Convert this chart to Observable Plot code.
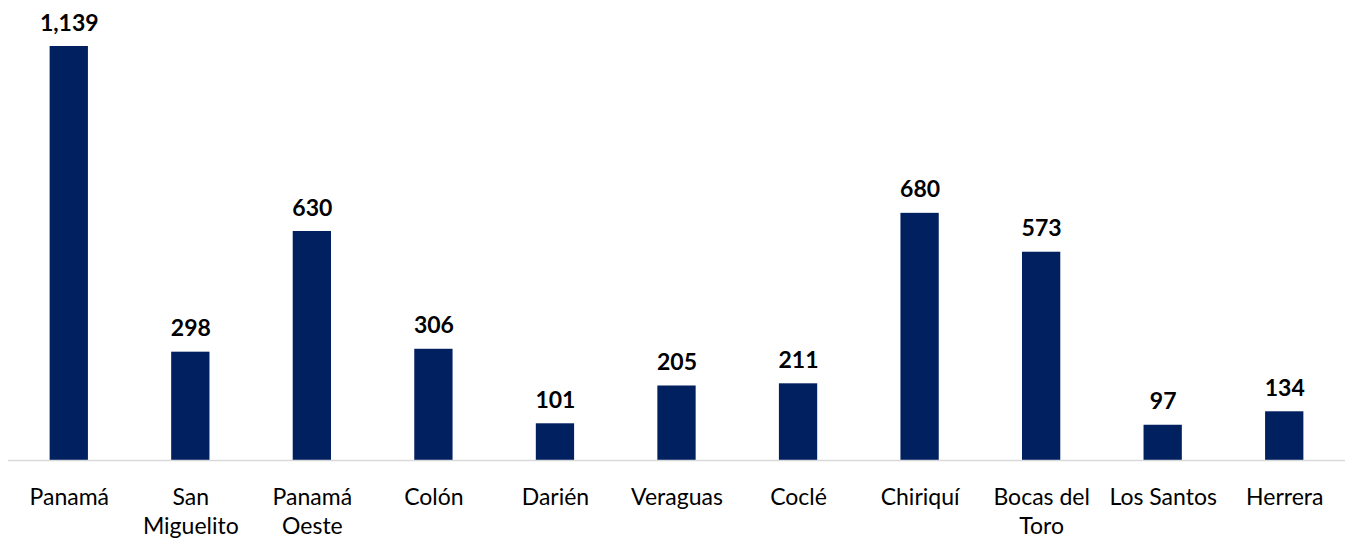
<!DOCTYPE html>
<html>
<head>
<meta charset="utf-8">
<script src="https://cdn.jsdelivr.net/npm/d3@7"></script>
<script src="https://cdn.jsdelivr.net/npm/@observablehq/plot@0.6"></script>
<style>
  html, body { margin: 0; padding: 0; background: #ffffff; }
  #chart { width: 1346px; height: 541px; }
</style>
</head>
<body>
<div id="chart"></div>
<script>
const categories = ["Panamá", "San Miguelito", "Panamá Oeste", "Colón", "Darién", "Veraguas", "Coclé", "Chiriquí", "Bocas del Toro", "Los Santos", "Herrera"];
const tickLabels = ["Panamá", "San\nMiguelito", "Panamá\nOeste", "Colón", "Darién", "Veraguas", "Coclé", "Chiriquí", "Bocas del\nToro", "Los Santos", "Herrera"];
const values = [1139, 298, 630, 306, 101, 205, 211, 680, 573, 97, 134];

const data = categories.map((c, i) => ({category: c, value: values[i]}));
const labelOf = new Map(categories.map((c, i) => [c, tickLabels[i]]));

const chart = Plot.plot({
  width: 1346,
  height: 541,
  marginTop: 46,
  marginBottom: 81,
  marginLeft: 8,
  marginRight: 1,
  style: {fontFamily: "Lato, 'Open Sans', sans-serif", background: "#ffffff"},
  x: {domain: categories, paddingInner: 0.685, paddingOuter: 0.3425, round: false, label: null},
  y: {domain: [0, 1139], axis: null},
  marks: [
    Plot.barY(data, {x: "category", y: "value", fill: "#002060"}),
    Plot.ruleY([0], {stroke: "#d9d9d9", strokeWidth: 1.5}),
    Plot.text(data, {
      x: "category", y: "value",
      text: d => d3.format(",")(d.value),
      lineAnchor: "bottom", dy: -16,
      fontSize: 23, fontWeight: "bold", fill: "#000000"
    }),
    Plot.axisX({
      tickSize: 0, tickPadding: 24,
      tickFormat: d => labelOf.get(d),
      fontSize: 23, lineHeight: 1.25,
      color: "#000000", label: null
    })
  ]
});
document.getElementById("chart").appendChild(chart);
</script>
</body>
</html>
